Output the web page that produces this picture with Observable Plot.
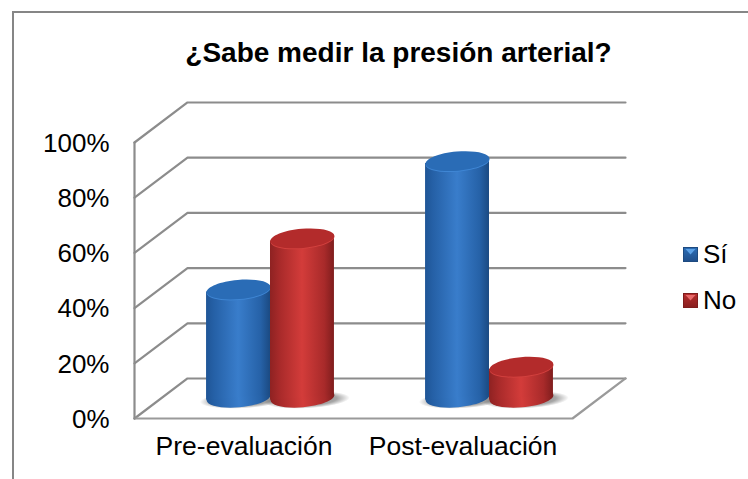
<!DOCTYPE html>
<html lang="es">
<head>
<meta charset="utf-8">
<script src="https://cdn.jsdelivr.net/npm/d3@7"></script>
<script src="https://cdn.jsdelivr.net/npm/@observablehq/plot@0.6"></script>
<style>
  html, body { margin: 0; padding: 0; background: #fff; overflow: hidden; }
  #page { position: relative; width: 748px; height: 479px; font-family: "Liberation Sans", Arial, sans-serif; color: #000; }
  #frame { position: absolute; left: 12px; top: 11px; right: 0; bottom: 0; border-left: 2px solid #868686; border-top: 2px solid #868686; }
  #title { position: absolute; left: 0; top: 38px; width: 797px; height: 30px; text-align: center; font-weight: bold; font-size: 28px; line-height: 30px; }
  #chart { position: absolute; left: 0; top: 60px; }
  #chart svg { display: block; }
  .key { position: absolute; left: 683px; display: flex; align-items: center; font-size: 26px; height: 24px; }
  .sw { position: relative; width: 15px; height: 15px; margin-right: 5px; box-sizing: border-box; }
  .sw::after { content: ""; position: absolute; left: 1px; top: 1px; width: 11px; height: 6px; clip-path: polygon(0 0, 100% 0, 50% 100%); }
  .sw.si { background: linear-gradient(#2b6cb4, #1f4f8c); border: 1px solid #1d4a80; }
  .sw.si::after { background: #5aa0e6; }
  .sw.no { background: linear-gradient(#b52d2d, #8a1f1f); border: 1px solid #7f1c1c; }
  .sw.no::after { background: #e86a6a; }
</style>
</head>
<body>
<div id="page">
  <div id="frame"></div>
  <div id="title">¿Sabe medir la presión arterial?</div>
  <div id="chart"></div>
  <div class="key" style="top:242px"><span class="sw si"></span>Sí</div>
  <div class="key" style="top:288px"><span class="sw no"></span>No</div>
</div>
<script>
const categories = ["Pre-evaluación", "Post-evaluación"];
const seriesNames = ["Sí", "No"];
const si = [39.5, 86];
const no = [58, 11.5];
const yTicks = [0, 20, 40, 60, 80, 100];

// Depth of the 3D box, in axis units
const depthX = 0.242;
const depthY = 14.5;
const halfBar = 0.146;
const tilt = 0.9;

const bars = [si, no].flatMap((vals, s) => vals.map((v, i) => {
  const cx = i + 0.5 + depthX / 2 + (s - 0.5) * halfBar * 2;
  return { id: `${s}-${i}`, s, cx, base: depthY / 2 + 0.3, top: v + depthY / 2 };
}));
const bodies = bars.flatMap(b => [
  { id: b.id, s: b.s, x: b.cx - halfBar, y1: b.base - tilt, y2: b.top - tilt },
  { id: b.id, s: b.s, x: b.cx + halfBar, y1: b.base + tilt, y2: b.top + tilt }
]);

const gridLines = yTicks.flatMap(v => [
  { v, x: 0, y: v },
  { v, x: depthX, y: v + depthY },
  { v, x: 2 + depthX, y: v + depthY }
]);
const floorEdge = [
  { x: 0, y: 0 }, { x: 2, y: 0 }, { x: 2 + depthX, y: depthY }
];
const wallEdge = [{ x: 0, y: 0 }, { x: 0, y: 100 }];

// Flat ellipse used as a dot symbol for the cylinder caps
const flat = ratio => ({
  draw(ctx, size) {
    const rx = Math.sqrt(size / Math.PI), ry = rx * ratio, k = 0.5523;
    ctx.moveTo(-rx, 0);
    ctx.bezierCurveTo(-rx, -ry * k, -rx * k, -ry, 0, -ry);
    ctx.bezierCurveTo(rx * k, -ry, rx, -ry * k, rx, 0);
    ctx.bezierCurveTo(rx, ry * k, rx * k, ry, 0, ry);
    ctx.bezierCurveTo(-rx * k, ry, -rx, ry * k, -rx, 0);
    ctx.closePath();
  }
});

const defs = () => d3.create("svg:defs").html(`
  <linearGradient id="gs" x1="0" x2="1" y1="0" y2="0">
    <stop offset="0" stop-color="#1f5596"/><stop offset=".12" stop-color="#2560a6"/>
    <stop offset=".5" stop-color="#397dcb"/><stop offset=".85" stop-color="#2662a8"/>
    <stop offset="1" stop-color="#1b4a82"/>
  </linearGradient>
  <linearGradient id="gn" x1="0" x2="1" y1="0" y2="0">
    <stop offset="0" stop-color="#8e2222"/><stop offset=".15" stop-color="#a82a2a"/>
    <stop offset=".5" stop-color="#d33c3a"/><stop offset=".85" stop-color="#a82a2a"/>
    <stop offset="1" stop-color="#7f1d1d"/>
  </linearGradient>
  <radialGradient id="shade">
    <stop offset="0" stop-color="#000" stop-opacity=".5"/><stop offset=".7" stop-color="#000" stop-opacity=".35"/>
    <stop offset="1" stop-color="#000" stop-opacity="0"/>
  </radialGradient>`).node();

const fills = [
  { body: "url(#gs)", cap: "#2a6cb6", rim: "#3f86d4" },
  { body: "url(#gn)", cap: "#b32b2b", rim: "#d2403e" }
];

const barMarks = s => {
  const b = bars.filter(d => d.s === s);
  const f = fills[s];
  return [
    Plot.dot(b, { x: "cx", y: "base", r: 32, symbol: flat(0.3), rotate: -5, fill: f.body }),
    Plot.areaY(bodies.filter(d => d.s === s), { x: "x", y1: "y1", y2: "y2", z: "id", fill: f.body }),
    Plot.dot(b, { x: "cx", y: "top", r: 32, dy: 1, symbol: flat(0.3), rotate: -5, fill: f.rim }),
    Plot.dot(b, { x: "cx", y: "top", r: 32, symbol: flat(0.3), rotate: -5, fill: f.cap })
  ];
};

const chart = Plot.plot({
  width: 748,
  height: 419,
  marginLeft: 134,
  marginRight: 176,
  marginTop: 82,
  marginBottom: 61,
  style: { background: "transparent", fontFamily: "'Liberation Sans', Arial, sans-serif", color: "#000", overflow: "visible" },
  x: { domain: [0, 2], label: null },
  y: { domain: [0, 100], label: null },
  marks: [
    defs,
    Plot.line(gridLines, { x: "x", y: "y", z: "v", stroke: "#8c8c8c", strokeWidth: 2.2 }),
    Plot.line(floorEdge, { x: "x", y: "y", stroke: "#9a9a9a", strokeWidth: 2.2 }),
    Plot.line(wallEdge, { x: "x", y: "y", stroke: "#8c8c8c", strokeWidth: 2.2 }),
    Plot.dot(bars, { x: d => d.cx + 0.02, y: d => d.base - 0.8, r: 43, symbol: flat(0.2), rotate: -3, fill: "url(#shade)" }),
    ...barMarks(0),
    ...barMarks(1),
    Plot.axisY({ ticks: yTicks, tickFormat: d => `${d}%`, tickSize: 0, tickPadding: 25, fontSize: 26, dy: 1, label: null, textAnchor: "end" }),
    Plot.axisX({ ticks: [0.5, 1.5], tickFormat: d => categories[Math.floor(d)], tickSize: 0, tickPadding: 18, fontSize: 26.5, label: null })
  ]
});
document.getElementById("chart").appendChild(chart);
</script>
</body>
</html>
